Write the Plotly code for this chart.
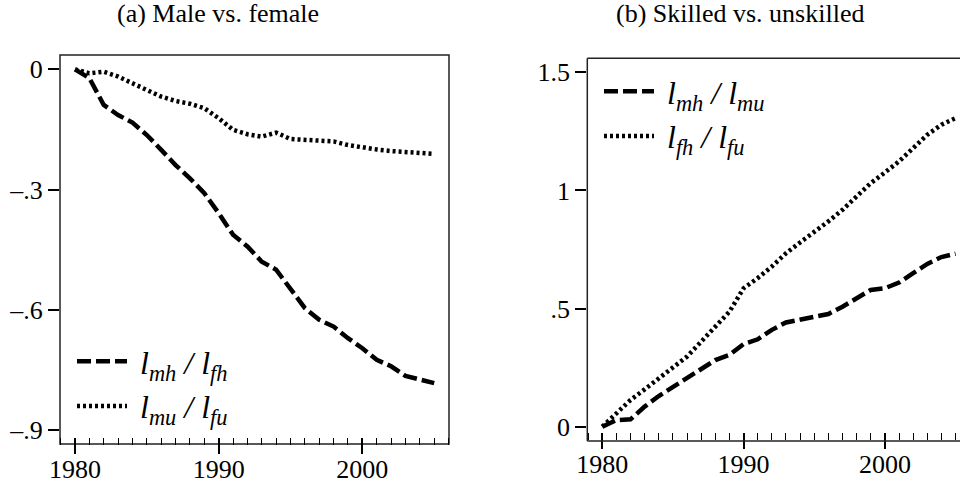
import plotly.graph_objects as go

years = list(range(1980, 2006))

# Panel (a): Male vs. female
mh_fh = [0, -0.022, -0.089, -0.114, -0.133, -0.164, -0.201, -0.239, -0.272, -0.309,
         -0.359, -0.413, -0.442, -0.480, -0.500, -0.546, -0.596, -0.625, -0.642, -0.671,
         -0.696, -0.725, -0.741, -0.765, -0.773, -0.783]
mu_fu = [0, -0.010, -0.006, -0.018, -0.035, -0.052, -0.068, -0.079, -0.086, -0.097,
         -0.122, -0.151, -0.162, -0.168, -0.158, -0.174, -0.176, -0.179, -0.180, -0.189,
         -0.195, -0.200, -0.204, -0.207, -0.208, -0.211]

# Panel (b): Skilled vs. unskilled
mh_mu = [0, 0.028, 0.031, 0.085, 0.130, 0.169, 0.205, 0.243, 0.282, 0.304,
         0.350, 0.370, 0.410, 0.441, 0.452, 0.463, 0.477, 0.508, 0.544, 0.579,
         0.586, 0.610, 0.650, 0.689, 0.718, 0.732]
fh_fu = [0, 0.056, 0.113, 0.158, 0.205, 0.247, 0.297, 0.360, 0.424, 0.487,
         0.586, 0.629, 0.678, 0.734, 0.780, 0.822, 0.869, 0.918, 0.975, 1.031,
         1.076, 1.123, 1.179, 1.236, 1.278, 1.306]

x_tickvals = [1980, 1990, 2000]
x_ticktext = ["1980", "1990", "2000"]
ya_tickvals = [0, -0.3, -0.6, -0.9]
ya_ticktext = ["0", "\u2013.3", "\u2013.6", "\u2013.9"]
yb_tickvals = [0, 0.5, 1, 1.5]
yb_ticktext = ["0", ".5", "1", "1.5"]

titles = ["(a) Male vs. female", "(b) Skilled vs. unskilled"]
names_a = ["\u00a0<i>l<sub>mh</sub> / l<sub>fh</sub></i>", "\u00a0<i>l<sub>mu</sub> / l<sub>fu</sub></i>"]
names_b = ["\u00a0<i>l<sub>mh</sub> / l<sub>mu</sub></i>", "\u00a0<i>l<sub>fh</sub> / l<sub>fu</sub></i>"]

W, H = 960, 486
FONT = "Liberation Serif, Times New Roman, serif"
DASH = dict(color="black", width=4.5, dash="14px,5px")
DOT = dict(color="black", width=4.5, dash="3px,3px")

def px(x):
    return x / W

def py(y):
    return 1 - y / H

fig = go.Figure()
fig.add_trace(go.Scatter(x=years, y=mh_fh, mode="lines", line=DASH, name=names_a[0],
                         xaxis="x", yaxis="y", legend="legend"))
fig.add_trace(go.Scatter(x=years, y=mu_fu, mode="lines", line=DOT, name=names_a[1],
                         xaxis="x", yaxis="y", legend="legend"))
fig.add_trace(go.Scatter(x=years, y=mh_mu, mode="lines", line=DASH, name=names_b[0],
                         xaxis="x2", yaxis="y2", legend="legend2"))
fig.add_trace(go.Scatter(x=years, y=fh_fu, mode="lines", line=DOT, name=names_b[1],
                         xaxis="x2", yaxis="y2", legend="legend2"))

tickfont = dict(family=FONT, size=26, color="black")
common_x = dict(showgrid=False, zeroline=False, showline=False, ticks="outside",
                automargin=False, ticklabelstandoff=-7,
                ticklen=16, tickwidth=1.5, tickcolor="black", tickfont=tickfont,
                tickvals=x_tickvals, ticktext=x_ticktext,
                minor=dict(dtick=1, tick0=1980, ticks="outside", ticklen=7,
                           tickwidth=1.2, tickcolor="black", showgrid=False))
common_y = dict(showgrid=False, zeroline=False, showline=False, ticks="outside",
                automargin=False,
                ticklen=11, tickwidth=1.5, tickcolor="black", tickfont=tickfont)

LEGFONT = dict(family=FONT, size=32, color="black")

fig.update_layout(
    template="none",
    width=W, height=H, margin=dict(l=0, r=0, t=0, b=0, autoexpand=False),
    paper_bgcolor="white", plot_bgcolor="white",
    xaxis=dict(domain=[px(60), px(449)], range=[1978.956, 2006.03], anchor="y", **common_x),
    yaxis=dict(domain=[py(437), py(55)], range=[-0.9175, 0.0357], anchor="x",
               tickvals=ya_tickvals, ticktext=ya_ticktext, **common_y),
    xaxis2=dict(domain=[px(587.3), 1], range=[1978.94, 2005.315], anchor="y2", **common_x),
    yaxis2=dict(domain=[py(431.7), py(58.3)], range=[-0.0212, 1.5593], anchor="x2",
                tickvals=yb_tickvals, ticktext=yb_ticktext, **common_y),
    legend=dict(x=px(72), y=py(334), xanchor="left", yanchor="top",
                bgcolor="rgba(0,0,0,0)", itemwidth=50, font=LEGFONT),
    legend2=dict(x=px(599), y=py(64), xanchor="left", yanchor="top",
                 bgcolor="rgba(0,0,0,0)", itemwidth=50, font=LEGFONT),
    showlegend=True,
)

# panel frames
fig.add_shape(type="rect", xref="paper", yref="paper",
              x0=px(60), x1=px(449), y0=py(444), y1=py(55),
              line=dict(color="#222", width=1.5), layer="below")
for y in (58.3, 441):
    fig.add_shape(type="line", xref="paper", yref="paper",
                  x0=px(587.3), x1=1.01, y0=py(y), y1=py(y),
                  line=dict(color="#222", width=1.5))
fig.add_shape(type="line", xref="paper", yref="paper",
              x0=px(587.3), x1=px(587.3), y0=py(441), y1=py(58.3),
              line=dict(color="#222", width=1.5))

fig.add_annotation(text=titles[0], xref="paper", yref="paper", x=px(218), y=py(14),
                   showarrow=False, xanchor="center", yanchor="middle",
                   font=dict(family=FONT, size=26, color="black"))
fig.add_annotation(text=titles[1], xref="paper", yref="paper", x=px(614), y=py(14),
                   showarrow=False, xanchor="left", yanchor="middle",
                   font=dict(family=FONT, size=26, color="black"))

fig.write_html("out.html", config={"displayModeBar": False},
               post_script="document.body.style.margin='0';document.body.style.overflow='hidden';")
